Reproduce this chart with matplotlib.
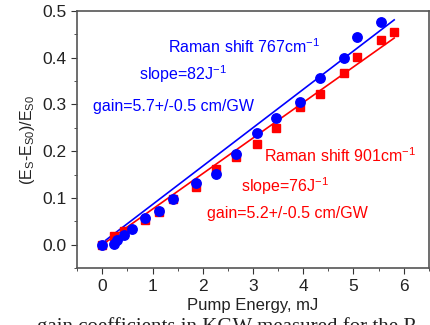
import matplotlib.pyplot as plt
from matplotlib.ticker import MultipleLocator

plt.rcParams['font.family'] = ['Liberation Sans', 'DejaVu Sans']

# Raman shift 767 cm-1 (blue circles)
x_767 = [0.0, 0.23, 0.30, 0.44, 0.60, 0.86, 1.13, 1.40, 1.87, 2.26, 2.67, 3.07, 3.46, 3.94, 4.34, 4.81, 5.07, 5.54]
y_767 = [0.0, 0.002, 0.011, 0.020, 0.034, 0.057, 0.073, 0.098, 0.132, 0.151, 0.194, 0.238, 0.270, 0.304, 0.357, 0.400, 0.443, 0.475]

# Raman shift 901 cm-1 (red squares)
x_901 = [0.0, 0.23, 0.44, 0.86, 1.13, 1.40, 1.87, 2.26, 2.67, 3.07, 3.46, 3.94, 4.34, 4.81, 5.07, 5.54, 5.81]
y_901 = [0.0, 0.018, 0.030, 0.053, 0.070, 0.098, 0.124, 0.162, 0.188, 0.215, 0.250, 0.294, 0.321, 0.366, 0.402, 0.438, 0.455]

# linear fits (slope per mJ, intercept)
fit_767 = (0.082, 0.004)
fit_901 = (0.076, 0.0)
fit_x = [0.07, 5.81]

fig = plt.figure(figsize=(4.31, 3.25), dpi=100)
ax = fig.add_axes([0.179, 0.175, 0.816, 0.792])

ax.plot(x_901, y_901, 's', color='#ff0000', ms=5.5, zorder=3)
ax.plot(x_767, y_767, 'o', color='#0000ff', ms=6.8, zorder=4)
ax.plot(fit_x, [fit_901[0] * v + fit_901[1] for v in fit_x], color='#ff0000', lw=1.2, zorder=2)
ax.plot(fit_x, [fit_767[0] * v + fit_767[1] for v in fit_x], color='#0000ff', lw=1.2, zorder=2)

ax.set_xlim(-0.5, 6.5)
ax.set_ylim(-0.05, 0.5)
ax.xaxis.set_major_locator(MultipleLocator(1))
ax.xaxis.set_minor_locator(MultipleLocator(0.5))
ax.yaxis.set_major_locator(MultipleLocator(0.1))
ax.yaxis.set_minor_locator(MultipleLocator(0.05))
ax.yaxis.set_major_formatter(plt.FormatStrFormatter('%.1f'))
ax.tick_params(which='both', direction='out', colors='#333333', labelcolor='#222222')
ax.tick_params(which='major', length=4, labelsize=12.5)
ax.tick_params(which='minor', length=2.5)
for s in ax.spines.values():
    s.set_color('#555555')
    s.set_linewidth(1.2)

ax.set_xlabel('Pump Energy, mJ', fontsize=12, color='#222222', labelpad=3)
ax.set_ylabel('(E$_\\mathregular{S}$-E$_\\mathregular{S0}$)/E$_\\mathregular{S0}$', fontsize=11.5, color='#222222', labelpad=4)

kw = dict(fontsize=11.5, ha='left', va='center')
ax.text(1.31, 0.424, 'Raman shift 767cm$^\\mathregular{-1}$', color='#0000ff', **kw)
ax.text(0.74, 0.364, 'slope=82J$^\\mathregular{-1}$', color='#0000ff', **kw)
ax.text(-0.19, 0.296, 'gain=5.7+/-0.5 cm/GW', color='#0000ff', **kw)
ax.text(3.22, 0.190, 'Raman shift 901cm$^\\mathregular{-1}$', color='#ff0000', **kw)
ax.text(2.76, 0.126, 'slope=76J$^\\mathregular{-1}$', color='#ff0000', **kw)
ax.text(2.09, 0.066, 'gain=5.2+/-0.5 cm/GW', color='#ff0000', **kw)

fig.text(0.085, 0.025, 'gain coefficients in KGW measured for the R', family='Liberation Serif',
         fontsize=15, va='top', ha='left', color='#222222')

fig.savefig('out.png', dpi=100)
